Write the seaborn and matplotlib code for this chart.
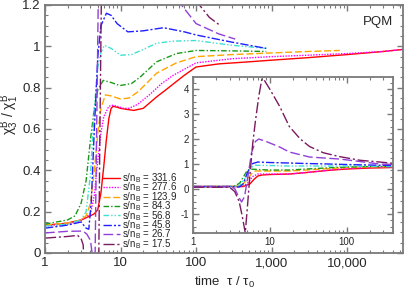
import numpy as np
import matplotlib
matplotlib.use('Agg')
import matplotlib.pyplot as plt
import matplotlib.ticker as mticker
import seaborn as sns

# legend labels and styles
labels = ['331.6', '277.6', '123.9', '84.3', '56.8', '45.8', '26.7', '17.5']
colors = ['#ff0000', '#ff00ff', '#ffa500', '#1a9a1a', '#40e0d0', '#2020ff', '#9040d8', '#7a1a60']

# main panel data (tau / tau0, chi3/chi1)
t_red = [1, 1.5, 2, 3, 4, 4.5, 5, 5.5, 6, 6.5, 7, 7.5, 8, 9, 10, 12, 15, 20, 30, 40, 55, 70, 100, 200, 500, 1000, 3000, 10000, 30000, 55000]
v_red = [0.135, 0.14, 0.145, 0.16, 0.18, 0.19, 0.21, 0.29, 0.42, 0.55, 0.65, 0.70, 0.71, 0.705, 0.70, 0.695, 0.69, 0.70, 0.755, 0.79, 0.83, 0.86, 0.90, 0.915, 0.925, 0.933, 0.945, 0.96, 0.975, 0.985]

t_mag = [1, 2, 3, 4, 4.5, 5, 5.5, 6, 7, 8, 9, 11, 13, 17, 25, 35, 50, 100, 300, 1000, 3000, 10000, 30000, 55000]
v_mag = [0.13, 0.14, 0.155, 0.19, 0.28, 0.45, 0.58, 0.66, 0.71, 0.715, 0.71, 0.70, 0.70, 0.72, 0.77, 0.82, 0.86, 0.92, 0.94, 0.95, 0.957, 0.965, 0.975, 0.985]

t_ora = [1, 2, 3, 3.5, 4, 4.5, 5, 5.5, 6.3, 7.5, 10, 13, 17, 22, 30, 55, 100, 300, 1000, 3000, 8000]
v_ora = [0.135, 0.145, 0.16, 0.18, 0.24, 0.4, 0.58, 0.7, 0.765, 0.76, 0.745, 0.75, 0.78, 0.82, 0.87, 0.92, 0.95, 0.96, 0.968, 0.975, 0.98]

t_gre = [1, 2, 2.5, 3, 3.5, 4, 4.5, 5, 5.9, 7.5, 9.8, 14, 18, 30, 55, 100, 300, 850]
v_gre = [0.14, 0.16, 0.18, 0.24, 0.35, 0.55, 0.7, 0.79, 0.835, 0.825, 0.81, 0.82, 0.85, 0.925, 0.965, 0.98, 0.978, 0.975]

t_cya = [1, 2, 3, 3.5, 4, 4.5, 5, 5.5, 6.1, 7.5, 10, 14, 20, 30, 50, 100, 300, 850]
v_cya = [0.13, 0.14, 0.16, 0.2, 0.38, 0.7, 0.9, 0.97, 1.005, 0.99, 0.957, 0.96, 0.985, 1.015, 1.025, 1.028, 1.005, 0.99]

t_blu = [1, 2, 3, 3.5, 3.8, 4.1, 4.5, 5, 5.5, 6.5, 7.5, 9, 12.5, 20, 37, 70, 100, 300, 850]
v_blu = [0.12, 0.135, 0.15, 0.12, 0.115, 0.25, 0.6, 0.95, 1.1, 1.16, 1.15, 1.11, 1.07, 1.075, 1.09, 1.07, 1.055, 1.02, 0.99]

t_pur = [1, 2, 3.2, 3.6, 4.0, 4.2, 4.3, 4.4, 5.1, 50, 58, 100, 200, 330]
v_pur = [0.097, 0.105, 0.106, 0.09, 0.06, 0.0, -0.6, -0.6, 1.3, 1.3, 1.22, 1.11, 1.06, 1.035]

t_dpu = [1, 2, 2.7, 3.0, 3.2, 3.35, 3.45, 5.0, 5.3, 5.6, 90, 100, 150, 210]
v_dpu = [0.072, 0.08, 0.085, 0.07, 0.04, -0.1, -0.6, -0.6, 0.5, 1.3, 1.3, 1.22, 1.14, 1.10]

# inset data
ti_red = [1, 3, 4.5, 5.5, 6.3, 7, 7.9, 10, 18, 30, 60, 100, 200, 400]
vi_red = [0.1, 0.1, 0.1, 0.2, 0.4, 0.52, 0.56, 0.58, 0.6, 0.66, 0.75, 0.8, 0.84, 0.86]
ti_mag = [1, 3, 4.5, 5.2, 6, 7, 10, 18, 30, 60, 100, 200, 400]
vi_mag = [0.1, 0.1, 0.1, 0.25, 0.5, 0.6, 0.6, 0.6, 0.66, 0.76, 0.82, 0.86, 0.88]
ti_ora = [1, 3, 4.2, 5, 5.8, 6.5, 10, 18, 30, 60, 100, 200, 400]
vi_ora = [0.1, 0.1, 0.12, 0.35, 0.62, 0.72, 0.72, 0.72, 0.76, 0.82, 0.86, 0.88, 0.9]
ti_gre = [1, 3, 3.6, 4.1, 5, 5.5, 7, 10, 18, 30, 60, 100, 200, 400]
vi_gre = [0.1, 0.1, 0.13, 0.25, 0.7, 0.8, 0.78, 0.76, 0.76, 0.8, 0.85, 0.88, 0.9, 0.9]
ti_cya = [1, 3, 4, 4.8, 5.6, 6.5, 10, 18, 30, 60, 100, 200, 400]
vi_cya = [0.1, 0.1, 0.12, 0.45, 0.85, 0.95, 0.94, 0.92, 0.92, 0.92, 0.92, 0.91, 0.9]
ti_blu = [1, 3, 4, 4.5, 5.2, 6, 7, 10, 18, 30, 60, 100, 200, 400]
vi_blu = [0.1, 0.1, 0.08, 0.2, 0.7, 1.02, 1.08, 1.06, 1.04, 1.02, 1.0, 0.98, 0.96, 0.94]
ti_pur = [1, 3, 3.5, 4.0, 4.3, 4.7, 5.2, 5.8, 6.5, 7.2, 9, 13.5, 18, 33, 81, 150, 270, 400]
vi_pur = [0.097, 0.1, 0.02, -0.35, -0.52, -0.3, 0.5, 1.45, 1.9, 2.0, 1.9, 1.68, 1.48, 1.28, 1.2, 1.1, 1.0, 0.98]
ti_dpu = [1, 3, 3.5, 4.0, 4.4, 4.8, 5.1, 5.5, 6.0, 6.5, 7.2, 7.9, 8.5, 10, 13.5, 18, 25, 33, 50, 80, 150, 270, 400]
vi_dpu = [0.075, 0.07, -0.1, -0.5, -1.1, -1.75, -0.8, 0.5, 1.8, 2.7, 3.7, 4.4, 4.35, 4.0, 3.3, 2.5, 2.0, 1.7, 1.45, 1.3, 1.15, 1.08, 1.03]

main_t = [t_red, t_mag, t_ora, t_gre, t_cya, t_blu, t_pur, t_dpu]
main_v = [v_red, v_mag, v_ora, v_gre, v_cya, v_blu, v_pur, v_dpu]
ins_t = [ti_red, ti_mag, ti_ora, ti_gre, ti_cya, ti_blu, ti_pur, ti_dpu]
ins_v = [vi_red, vi_mag, vi_ora, vi_gre, vi_cya, vi_blu, vi_pur, vi_dpu]

styles = ['-', (0, (1, 1)), (0, (5, 2)), (0, (4, 1.5, 1, 1.5)),
          (0, (4, 1.5, 1, 1.5, 1, 1.5)), (0, (6, 1.5, 1.5, 1.5)),
          (0, (7, 2.5)), (0, (8, 2, 1.5, 2))]

sns.set_style('ticks')
plt.rcParams['font.family'] = ['Liberation Sans', 'DejaVu Sans']
plt.rcParams['mathtext.fontset'] = 'custom'
plt.rcParams['mathtext.rm'] = 'Liberation Sans'
plt.rcParams['mathtext.it'] = 'Liberation Sans'
plt.rcParams['axes.unicode_minus'] = False

spine_col = '#7a7a7a'


def style_axes(ax, fs):
    for s in ax.spines.values():
        s.set_color(spine_col)
        s.set_linewidth(1.3)
    ax.tick_params(which='both', direction='in', top=True, right=True,
                   color=spine_col, labelsize=fs, pad=3)
    ax.tick_params(which='major', length=4, width=1)
    ax.tick_params(which='minor', length=2.2, width=0.8)


fig = plt.figure(figsize=(4.07, 2.95), dpi=100)
ax = fig.add_axes([0.1106, 0.1424, 0.8796, 0.8407])

for t, v, c, ls, lab in zip(main_t, main_v, colors, styles, labels):
    sns.lineplot(x=t, y=v, ax=ax, color=c, linestyle=ls, linewidth=1.0,
                 estimator=None, sort=False, label=r's/n$_\mathregular{B}$ = ' + lab)

ax.set_xscale('log')
ax.set_xlim(1, 55000)
ax.set_ylim(0, 1.2)
ax.set_xticks([1, 10, 100, 1000, 10000])
ax.set_xticklabels(['1', '10', '100', '1,000', '10,000'])
ax.xaxis.set_minor_locator(mticker.LogLocator(base=10, subs=np.arange(2, 10)))
ax.xaxis.set_minor_formatter(mticker.NullFormatter())
ax.set_yticks([0, 0.2, 0.4, 0.6, 0.8, 1.0, 1.2])
ax.set_yticklabels(['0', '0.2', '0.4', '0.6', '0.8', '1', '1.2'])
ax.yaxis.set_minor_locator(mticker.MultipleLocator(0.05))
style_axes(ax, 9.5)

ax.set_xlabel(r'time  $\mathregular{τ\ /\ τ_0}$', fontsize=9.5, labelpad=4)
ax.set_ylabel(r'$\mathregular{χ^B_3\ /\ χ^B_1}$', fontsize=10)
ax.yaxis.set_label_coords(-0.066, 0.56)
ax.text(0.93, 0.93, 'PQM', transform=ax.transAxes, ha='center', va='center', fontsize=9.5)

ax.legend(loc='upper left', bbox_to_anchor=(0.162, 0.33), frameon=False,
          fontsize=7, handlelength=1.75, handletextpad=0.25, labelspacing=-0.45,
          borderpad=0, borderaxespad=0)

# inset
axi = fig.add_axes([0.474, 0.210, 0.491, 0.529])
for t, v, c, ls in zip(ins_t, ins_v, colors, styles):
    sns.lineplot(x=t, y=v, ax=axi, color=c, linestyle=ls, linewidth=1.0,
                 estimator=None, sort=False)
axi.set_xscale('log')
axi.set_xlim(1, 400)
axi.set_ylim(-1.76, 4.48)
axi.set_xticks([1, 10, 100])
axi.set_xticklabels(['1', '10', '100'])
axi.xaxis.set_minor_locator(mticker.LogLocator(base=10, subs=np.arange(2, 10)))
axi.xaxis.set_minor_formatter(mticker.NullFormatter())
axi.set_yticks([-1, 0, 1, 2, 3, 4])
axi.yaxis.set_minor_locator(mticker.MultipleLocator(0.25))
style_axes(axi, 7)

fig.savefig('out.png', dpi=100)
